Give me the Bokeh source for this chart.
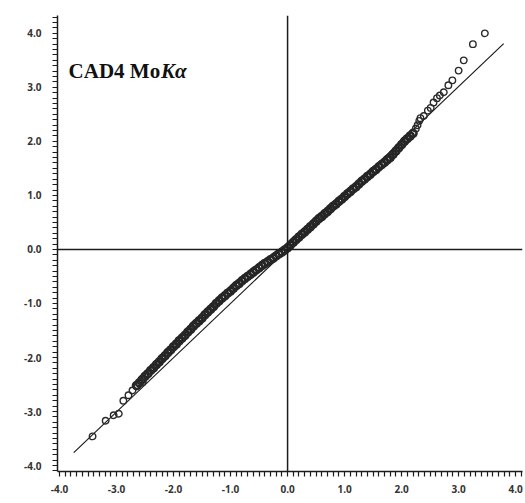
from bokeh.plotting import figure
from bokeh.models import LinearAxis, FixedTicker, CustomJSTickFormatter, Span, Label
from bokeh.embed import file_html
from bokeh.resources import INLINE

# Dense band of the normal probability plot (expected vs observed)
band_x = [-2.65, -2.60, -2.55, -2.50, -2.45, -2.40, -2.35, -2.30, -2.25, -2.20,
          -2.15, -2.10, -2.05, -2.00, -1.95, -1.90, -1.85, -1.80, -1.75, -1.70,
          -1.65, -1.60, -1.55, -1.50, -1.45, -1.40, -1.35, -1.30, -1.25, -1.20,
          -1.15, -1.10, -1.05, -1.00, -0.95, -0.90, -0.85, -0.80, -0.75, -0.70,
          -0.65, -0.60, -0.55, -0.50, -0.45, -0.40, -0.35, -0.30, -0.25, -0.20,
          -0.15, -0.10, -0.05, 0.00, 0.05, 0.10, 0.15, 0.20, 0.25, 0.30,
          0.35, 0.40, 0.45, 0.50, 0.55, 0.60, 0.65, 0.70, 0.75, 0.80,
          0.85, 0.90, 0.95, 1.00, 1.05, 1.10, 1.15, 1.20, 1.25, 1.30,
          1.35, 1.40, 1.45, 1.50, 1.55, 1.60, 1.65, 1.70, 1.75, 1.80,
          1.85, 1.90, 1.95, 2.00, 2.05, 2.10, 2.15, 2.20]
band_y = [-2.52, -2.47, -2.41, -2.35, -2.30, -2.24, -2.19, -2.13, -2.08, -2.02,
          -1.97, -1.91, -1.86, -1.80, -1.75, -1.69, -1.64, -1.59, -1.53, -1.48,
          -1.42, -1.37, -1.32, -1.27, -1.21, -1.16, -1.11, -1.06, -1.00, -0.95,
          -0.90, -0.86, -0.81, -0.77, -0.72, -0.67, -0.63, -0.58, -0.54, -0.50,
          -0.46, -0.42, -0.38, -0.34, -0.30, -0.26, -0.23, -0.19, -0.16, -0.12,
          -0.08, -0.05, -0.01, 0.03, 0.08, 0.13, 0.18, 0.23, 0.28, 0.32,
          0.37, 0.42, 0.47, 0.52, 0.57, 0.61, 0.66, 0.70, 0.75, 0.80,
          0.84, 0.89, 0.93, 0.98, 1.03, 1.07, 1.12, 1.16, 1.21, 1.26,
          1.30, 1.35, 1.39, 1.44, 1.48, 1.53, 1.57, 1.61, 1.66, 1.70,
          1.76, 1.82, 1.88, 1.94, 2.00, 2.05, 2.10, 2.15]

# Sparse points at the lower tail
low_x = [-3.42, -3.19, -3.05, -2.96, -2.88, -2.79, -2.72, -2.63, -2.54]
low_y = [-3.46, -3.17, -3.07, -3.04, -2.80, -2.70, -2.61, -2.52, -2.46]

# Sparse points at the upper tail
high_x = [2.25, 2.28, 2.31, 2.33, 2.39, 2.46, 2.51, 2.56, 2.62, 2.67, 2.74,
          2.82, 2.89, 3.00, 3.09, 3.25, 3.46]
high_y = [2.24, 2.30, 2.38, 2.43, 2.47, 2.57, 2.62, 2.72, 2.80, 2.85, 2.91,
          3.04, 3.13, 3.31, 3.50, 3.80, 4.00]

# Ideal line (slope 1)
ideal_x = [-3.75, 3.79]
ideal_y = [-3.76, 3.81]

# Tick marks every 0.1, labelled at whole numbers only
x_tick_marks = [i / 10 for i in range(-40, 42)]
y_tick_marks = [i / 10 for i in range(-41, 44)]

title_main = "CAD4 Mo"
title_italic = "K\u03b1"

ink = "#1c1c1c"

p = figure(width=525, height=503, x_range=(-4.035, 4.12), y_range=(-4.11, 4.33),
           output_backend="svg", toolbar_location=None,
           x_axis_type=None, y_axis_type=None,
           min_border_left=57, min_border_right=3, min_border_top=15,
           min_border_bottom=32)
p.outline_line_color = None
p.background_fill_color = "white"
p.border_fill_color = "white"

fmt_code = "return Math.abs(tick - Math.round(tick)) < 1e-6 ? tick.toFixed(1) : '';"
xaxis = LinearAxis(ticker=FixedTicker(ticks=x_tick_marks),
                   formatter=CustomJSTickFormatter(code=fmt_code))
yaxis = LinearAxis(ticker=FixedTicker(ticks=y_tick_marks),
                   formatter=CustomJSTickFormatter(code=fmt_code))
for ax in (xaxis, yaxis):
    ax.axis_line_color = ink
    ax.axis_line_width = 1.5
    ax.major_tick_line_color = ink
    ax.major_tick_line_width = 1.2
    ax.major_tick_in = 0
    ax.major_tick_out = 5
    ax.minor_tick_line_color = None
    ax.major_label_text_font = "Open Sans"
    ax.major_label_text_font_style = "bold"
    ax.major_label_text_font_size = "10px"
    ax.major_label_text_color = "#333333"
yaxis.major_label_standoff = 11
xaxis.major_label_standoff = 8
p.add_layout(xaxis, "below")
p.add_layout(yaxis, "left")

p.add_layout(Span(location=0, dimension="height", line_color=ink, line_width=1.5))
p.add_layout(Span(location=0, dimension="width", line_color=ink, line_width=1.5))

p.line(ideal_x, ideal_y, line_color=ink, line_width=1.2)

p.scatter(band_x, band_y, marker="circle", size=7, fill_color=None,
          line_color="#262626", line_width=2.6)
for xs, ys in ((low_x, low_y), (high_x, high_y)):
    p.scatter(xs, ys, marker="circle", size=6.5, fill_color=None,
              line_color="#2a2a2a", line_width=1.4)

p.add_layout(Label(x=-3.84, y=3.31, text=title_main, text_font="Liberation Serif",
                   text_font_style="bold", text_font_size="21px",
                   text_color="#111111", text_baseline="alphabetic"))
p.add_layout(Label(x=-2.22, y=3.31, text=title_italic, text_font="Liberation Serif",
                   text_font_style="bold italic", text_font_size="21px",
                   text_color="#111111", text_baseline="alphabetic"))

open("out.html", "w").write(file_html(p, INLINE))
